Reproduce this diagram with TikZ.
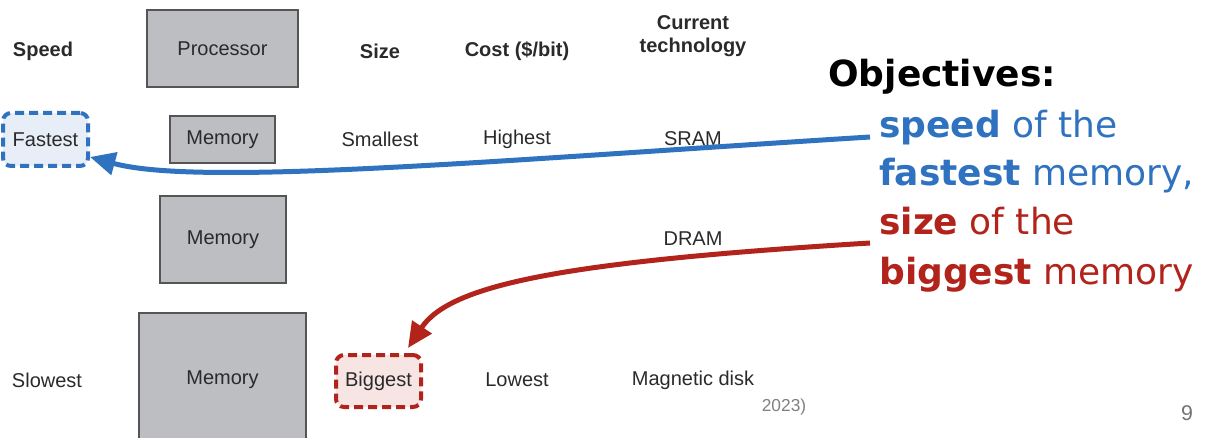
\documentclass[tikz,border=0pt]{standalone}
\usepackage{fontspec}
\setmainfont{Liberation Sans}
\newfontfamily\objfont{DejaVu Sans}
\usetikzlibrary{arrows.meta}
\definecolor{boxgray}{HTML}{BDBEC2}
\definecolor{boxline}{HTML}{555555}
\definecolor{myblue}{HTML}{2E72C0}
\definecolor{myred}{HTML}{B2231B}
\definecolor{lightblue}{HTML}{E8EEF7}
\definecolor{lightred}{HTML}{F6E5E3}
\definecolor{txt}{HTML}{2A2A2A}
\tikzset{
  membox/.style={draw=boxline, line width=1.1pt, fill=boxgray, inner sep=0pt, font=\fontsize{15pt}{18pt}\selectfont, text=txt},
  lbl/.style={inner sep=0pt, font=\fontsize{15pt}{18pt}\selectfont, text=txt},
  hdr/.style={inner sep=0pt, font=\bfseries\fontsize{15pt}{18pt}\selectfont, text=txt, align=center},
  dashbox/.style={line width=3pt, dash pattern=on 6.75pt off 3.75pt, rounded corners=6pt, inner sep=0pt, minimum width=63.75pt, font=\fontsize{15pt}{18pt}\selectfont, text=txt},
  objline/.style={inner sep=0pt, anchor=base west, font=\objfont\fontsize{27pt}{32pt}\selectfont},
  bigarrow/.style={line width=3.75pt, -{Triangle[length=19pt,width=17pt]}},
}
\begin{document}
\begin{tikzpicture}[x=0.75pt,y=-0.75pt]
\useasboundingbox (0,0) rectangle (1210,438);
% headers
\node[hdr] (speed) at (43,51) {Speed};
\node[hdr] (size) at (380,51) {Size};
\node[hdr] (cost) at (517,51) {Cost (\$/bit)};
\node[hdr, font=\bfseries\fontsize{15pt}{17pt}\selectfont] (tech) at (693,36) {Current\\technology};
% boxes
\node[membox, minimum width=113.25pt, minimum height=57.75pt] (proc) at (222.5,48.5) {Processor};
\node[membox, minimum width=78.75pt, minimum height=35.25pt] (m1) at (222.5,139.5) {Memory};
\node[membox, minimum width=94.5pt, minimum height=65.25pt] (m2) at (223,239.5) {Memory};
\node[membox, minimum width=125.25pt, minimum height=100.5pt] (m3box) at (222.5,380) {};
\node[lbl] (m3) at (222.5,380) {Memory};
% row 1
\node[dashbox, draw=myblue, fill=lightblue, minimum height=39.75pt] (fast) at (45.5,139.5) {Fastest};
\node[lbl] (small) at (380,139) {Smallest};
\node[lbl] (high) at (517,139) {Highest};
\node[lbl] (sram) at (693,139) {SRAM};
% row 2
\node[lbl] (dram) at (693,239) {DRAM};
% row 3
\node[lbl] (slow) at (47,380) {Slowest};
\node[dashbox, draw=myred, fill=lightred, minimum height=39pt] (big) at (378.5,381) {Biggest};
\node[lbl] (low) at (517,380) {Lowest};
\node[lbl] (disk) at (693,380) {Magnetic disk};
% small texts
\node[inner sep=0pt, text=gray, font=\fontsize{13pt}{15pt}\selectfont] (yr) at (784,407) {2023)};
\node[inner sep=0pt, text=gray!90!black, font=\fontsize{16pt}{18pt}\selectfont] (pg) at (1187,413) {9};
% objectives
\node[objline, text=black] (obj) at (828,87) {\bfseries Objectives:};
\node[objline, text=myblue] (o1) at (879,138) {\bfseries speed\mdseries{} of the};
\node[objline, text=myblue] (o2) at (879,186) {\bfseries fastest\mdseries{} memory,};
\node[objline, text=myred] (o3) at (879,235) {\bfseries size\mdseries{} of the};
\node[objline, text=myred] (o4) at (879,285) {\bfseries biggest\mdseries{} memory};
% arrows
\coordinate (bstart) at (870,137);
\coordinate (rstart) at (870,243);
\coordinate (btip) at (90,157);
\coordinate (rtip) at (408,348);
\draw[bigarrow, myblue] (bstart) .. controls (500,160) and (200,187) .. (btip);
\draw[bigarrow, myred] (rstart) .. controls (560,262) and (450,285) .. (rtip);
\end{tikzpicture}
\end{document}
